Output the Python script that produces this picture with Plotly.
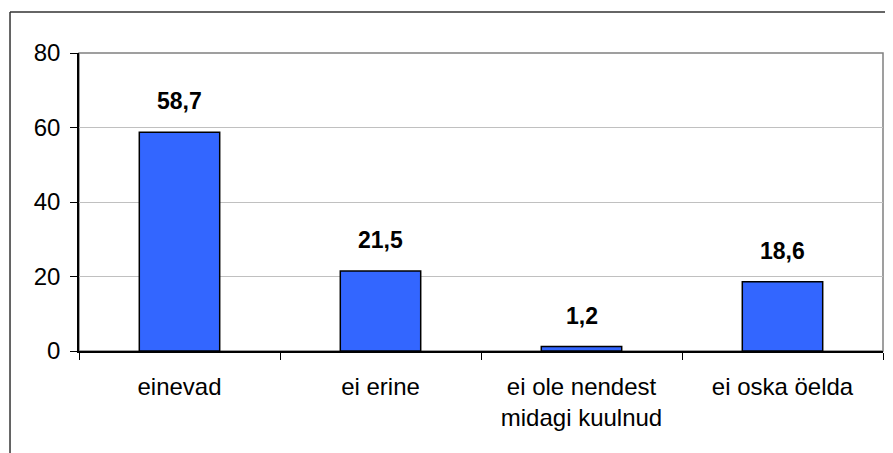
import plotly.graph_objects as go

# Andmed
categories = ["einevad", "ei erine", "ei ole nendest<br>midagi kuulnud", "ei oska öelda"]
values = [58.7, 21.5, 1.2, 18.6]
y_ticks = [0, 20, 40, 60, 80]

fig = go.Figure()
fig.add_trace(go.Bar(
    x=categories,
    y=values,
    width=0.4,
    marker_color="#3366FF",
    marker_line_color="#000000",
    marker_line_width=1.5,
))

# Väärtused tulpade kohal (koma kui kümnenderaldaja)
for cat, val in zip(categories, values):
    fig.add_annotation(
        x=cat, y=val, text=f"<b>{val:.1f}</b>".replace(".", ","),
        showarrow=False, yanchor="bottom", yshift=16,
        font=dict(size=23, color="#000000"),
    )

# Joonise raam ja graafikuala piirjoon
fig.add_shape(type="rect", xref="paper", yref="paper", x0=0, x1=1, y0=0, y1=1,
              line=dict(color="#808080", width=1.5), layer="below")
fig.add_shape(type="line", xref="paper", yref="paper", x0=-0.0858, x1=-0.0858,
              y0=-0.5, y1=1.1376, line=dict(color="#333333", width=1.5))
fig.add_shape(type="line", xref="paper", yref="paper", x0=-0.0858, x1=1.2,
              y0=1.1376, y1=1.1376, line=dict(color="#333333", width=1.5))

# lehe body-l on 8px veeris, seepärast nihutatud veerised
fig.update_layout(
    width=893, height=453,
    margin=dict(l=71, r=18, t=45, b=110),
    plot_bgcolor="white", paper_bgcolor="white",
    font=dict(family="Liberation Sans, Arial, sans-serif", size=24, color="#000000"),
    showlegend=False,
)
fig.update_xaxes(
    type="category", tickson="boundaries", ticks="outside", ticklen=7,
    tickcolor="#000000", showline=True, linecolor="#000000", linewidth=1.5,
    showgrid=False, ticklabelstandoff=13,
)
fig.update_yaxes(
    range=[0, 80], tickvals=y_ticks, ticks="outside", ticklen=7,
    tickcolor="#000000", showline=True, linecolor="#000000", linewidth=1.5,
    gridcolor="#c0c0c0", gridwidth=1, zeroline=False, ticklabelstandoff=5,
)

fig.write_html("out.html")
